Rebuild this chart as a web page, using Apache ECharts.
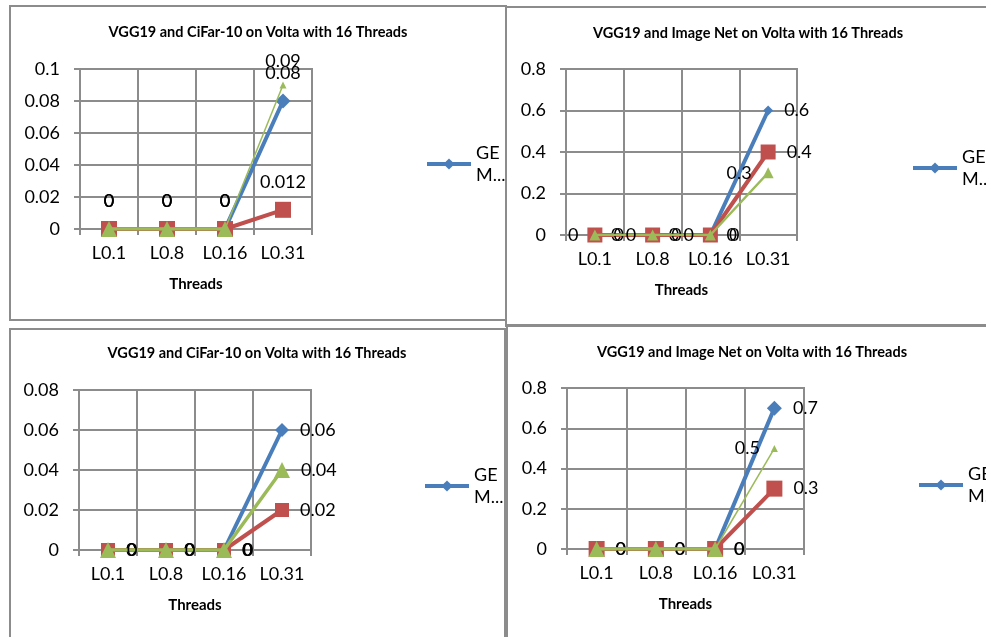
<!DOCTYPE html>
<html>
<head>
<meta charset="utf-8">
<script src="https://cdn.jsdelivr.net/npm/echarts@6/dist/echarts.min.js"></script>
<style>
  html, body { margin: 0; padding: 0; background: #fff; }
  #main { width: 986px; height: 637px; }
</style>
</head>
<body>
<div id="main"></div>
<script type="text/javascript">
// data
var categories = ['L0.1', 'L0.8', 'L0.16', 'L0.31'];

var cifarTopBlue = [0, 0, 0, 0.08];
var cifarTopRed = [0, 0, 0, 0.012];
var cifarTopGreen = [0, 0, 0, 0.09];

var imagenetTopBlue = [0, 0, 0, 0.6];
var imagenetTopRed = [0, 0, 0, 0.4];
var imagenetTopGreen = [0, 0, 0, 0.3];

var cifarBottomBlue = [0, 0, 0, 0.06];
var cifarBottomRed = [0, 0, 0, 0.02];
var cifarBottomGreen = [0, 0, 0, 0.04];

var imagenetBottomBlue = [0, 0, 0, 0.7];
var imagenetBottomRed = [0, 0, 0, 0.3];
var imagenetBottomGreen = [0, 0, 0, 0.5];

var yMax = [0.1, 0.8, 0.08, 0.8];
var yStep = [0.02, 0.2, 0.02, 0.2];

var titles = [
    'VGG19 and CiFar-10 on Volta with 16 Threads',
    'VGG19 and Image Net on Volta with 16 Threads',
    'VGG19 and CiFar-10 on Volta with 16 Threads',
    'VGG19 and Image Net on Volta with 16 Threads'
];

var BLUE = '#4a7ebb', RED = '#c0504d', GREEN = '#9bbb59', GRID = '#8c8c8c';
var FONT = 'Lato, "Open Sans", sans-serif';
var NUM = 18;

// layout of each panel (pixels)
var panels = [
    { blue: cifarTopBlue, red: cifarTopRed, green: cifarTopGreen,
      grid: {left: 80, top: 69, width: 232, height: 160}, titleXY: [258, 32], legendXY: [425, 164],
      pos: ['top', 'top', 'top'], sizes: [15, 16, 16, 7], thinTail: true, greenZeroLabels: true, greenWidth: 3.5 },
    { blue: imagenetTopBlue, red: imagenetTopRed, green: imagenetTopGreen,
      grid: {left: 566, top: 69, width: 231, height: 166}, titleXY: [748, 33], legendXY: [911, 168],
      pos: ['right', 'right', 'left'], sizes: [10, 15, 11, 11], thinTail: false, greenZeroLabels: true, greenWidth: 2.5 },
    { blue: cifarBottomBlue, red: cifarBottomRed, green: cifarBottomGreen,
      grid: {left: 79, top: 390, width: 232, height: 160}, titleXY: [257, 353], legendXY: [423, 486],
      pos: ['right', 'right', 'right'], sizes: [14, 14, 16, 16], thinTail: false, greenZeroLabels: true, greenWidth: 3.5 },
    { blue: imagenetBottomBlue, red: imagenetBottomRed, green: imagenetBottomGreen,
      grid: {left: 567, top: 388, width: 237, height: 161}, titleXY: [752, 352], legendXY: [917, 485],
      pos: ['right', 'right', 'left'], sizes: [15, 16, 16, 7], thinTail: true, greenZeroLabels: false, greenWidth: 3.5 }
];

var grids = [], xAxes = [], yAxes = [], series = [], legends = [], graphics = [];

function lbl(pos, show) {
    return { show: show, position: pos, distance: 11, color: '#000', fontSize: NUM, fontFamily: FONT };
}

panels.forEach(function (p, i) {
    grids.push({ left: p.grid.left, top: p.grid.top, width: p.grid.width, height: p.grid.height,
                 show: true, borderColor: GRID, borderWidth: 2, backgroundColor: 'transparent' });
    xAxes.push({
        type: 'category', gridIndex: i, data: categories, boundaryGap: true,
        name: 'Threads', nameLocation: 'middle', nameGap: 48,
        nameTextStyle: { fontFamily: FONT, fontWeight: 'bold', fontSize: 15, color: '#000' },
        axisLine: { lineStyle: { color: GRID, width: 2 } },
        axisTick: { show: true, interval: 0, length: 6, lineStyle: { color: GRID, width: 2 } },
        axisLabel: { interval: 0, color: '#000', fontSize: NUM, fontFamily: FONT, margin: 15 },
        splitLine: { show: true, interval: 0, lineStyle: { color: GRID, width: 2 } }
    });
    yAxes.push({
        type: 'value', gridIndex: i, min: 0, max: yMax[i], interval: yStep[i],
        axisLine: { show: true, lineStyle: { color: GRID, width: 2 } },
        axisTick: { show: true, length: 6, lineStyle: { color: GRID, width: 2 } },
        axisLabel: { color: '#000', fontSize: NUM, fontFamily: FONT, margin: 20 },
        splitLine: { show: true, lineStyle: { color: GRID, width: 2 } }
    });

    series.push({
        name: 'GE M...', type: 'line', xAxisIndex: i, yAxisIndex: i, data: p.blue,
        symbol: 'diamond', symbolSize: p.sizes[0], color: BLUE,
        lineStyle: { width: 4, color: BLUE }, label: lbl(p.pos[0], true), z: 2, animation: false
    });
    series.push({
        name: 'Series 2', type: 'line', xAxisIndex: i, yAxisIndex: i, data: p.red,
        symbol: 'rect', symbolSize: p.sizes[1], color: RED,
        lineStyle: { width: 4, color: RED }, label: lbl(p.pos[1], true), z: 3, animation: false
    });
    if (p.thinTail) {
        var head = p.green.map(function (v, k) { return k < 3 ? v : '-'; });
        var tail = p.green.map(function (v, k) { return k >= 2 ? v : '-'; });
        series.push({
            name: 'Series 3', type: 'line', xAxisIndex: i, yAxisIndex: i, data: head,
            symbol: 'triangle', symbolSize: p.sizes[2], color: GREEN,
            lineStyle: { width: p.greenWidth, color: GREEN }, label: lbl(p.pos[2], p.greenZeroLabels), z: 4, animation: false
        });
        series.push({
            name: 'Series 3', type: 'line', xAxisIndex: i, yAxisIndex: i, data: tail,
            symbol: 'triangle', symbolSize: function (v, prm) { return prm.dataIndex === 3 ? p.sizes[3] : 0; },
            color: GREEN, lineStyle: { width: 1.5, color: GREEN },
            label: { show: true, position: p.pos[2], distance: 11, color: '#000', fontSize: NUM, fontFamily: FONT,
                     formatter: function (prm) { return prm.dataIndex === 3 ? String(prm.value) : ''; } },
            z: 4, animation: false
        });
    } else {
        series.push({
            name: 'Series 3', type: 'line', xAxisIndex: i, yAxisIndex: i, data: p.green,
            symbol: 'triangle', symbolSize: p.sizes[2], color: GREEN,
            lineStyle: { width: p.greenWidth, color: GREEN }, label: lbl(p.pos[2], true), z: 4, animation: false
        });
    }

    legends.push({
        data: ['GE M...'], left: p.legendXY[0], top: p.legendXY[1] - 33, padding: 0,
        itemWidth: 44, itemHeight: 14, selectedMode: false,
        lineStyle: { width: 4, color: BLUE },
        formatter: function () { return 'GE\nM...'; },
        textStyle: { color: '#000', fontSize: NUM, fontFamily: FONT, lineHeight: 22, padding: [22, 0, 0, 0] }
    });

    graphics.push({
        type: 'text', x: p.titleXY[0], y: p.titleXY[1], silent: true,
        style: { text: titles[i], font: 'bold 14.5px ' + FONT, fill: '#000',
                 align: 'center', verticalAlign: 'middle', textAlign: 'center', textVerticalAlign: 'middle' }
    });
});

// panel frames
var frames = [[10, 6, 496, 314], [506, 7, 490, 319], [10, 329, 495, 320], [507, 325, 490, 320]];
frames.forEach(function (f) {
    graphics.push({ type: 'rect', silent: true, z: -1,
        shape: { x: f[0], y: f[1], width: f[2], height: f[3] },
        style: { fill: 'none', stroke: '#8c8c8c', lineWidth: 2 } });
});

var chart = echarts.init(document.getElementById('main'), null, { renderer: 'canvas' });
chart.setOption({
    backgroundColor: '#fff',
    animation: false,
    grid: grids,
    xAxis: xAxes,
    yAxis: yAxes,
    legend: legends,
    series: series,
    graphic: graphics
});
</script>
</body>
</html>
